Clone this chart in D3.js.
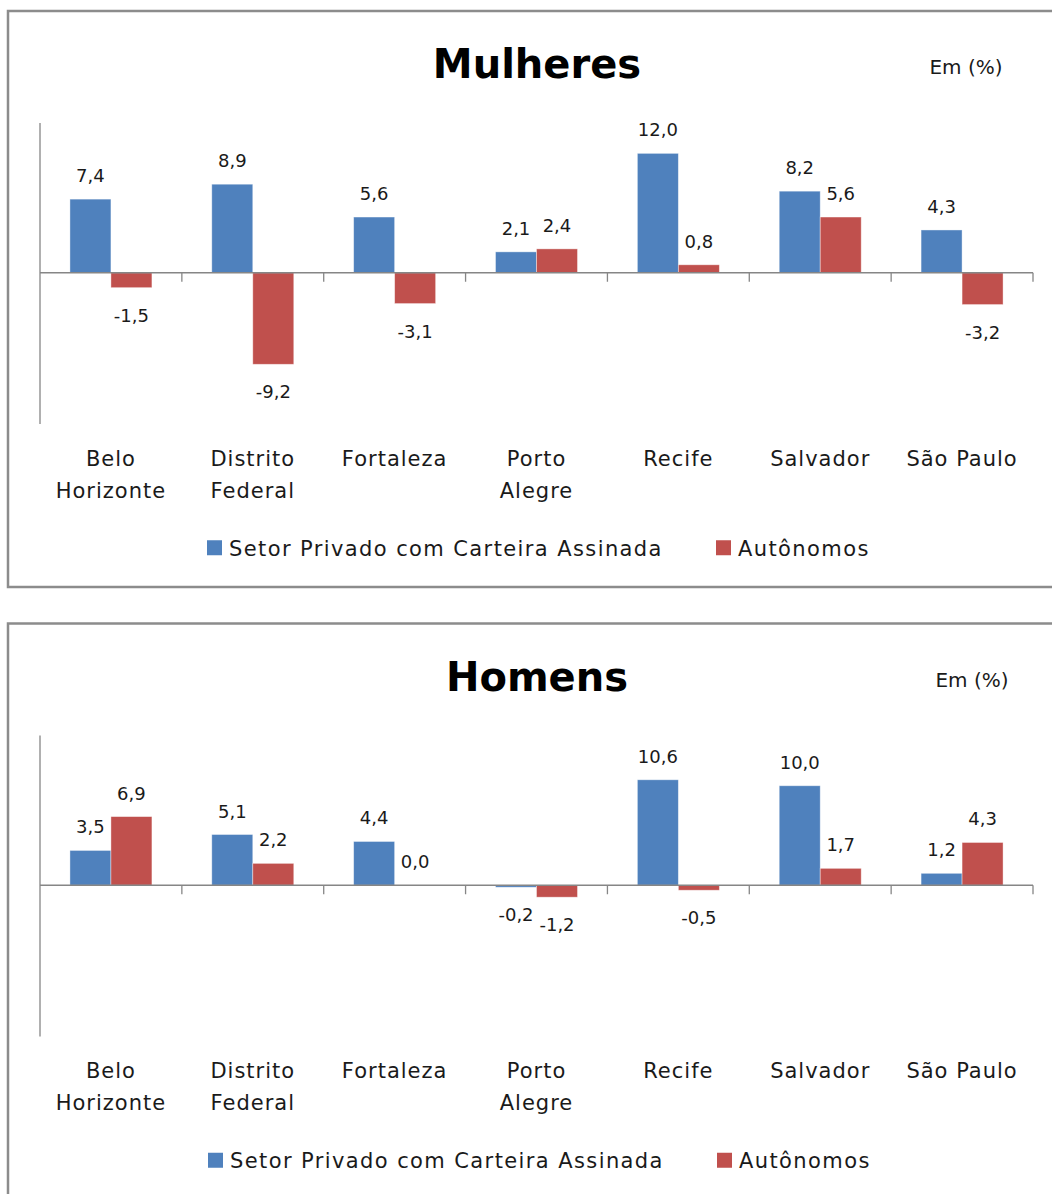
<!DOCTYPE html>
<html>
<head>
<meta charset="utf-8">
<script src="https://cdn.jsdelivr.net/npm/d3@7"></script>
<style>
  body { margin: 0; background: #fff; }
  text { font-family: "DejaVu Sans", sans-serif; fill: #1a1a1a; }
</style>
</head>
<body>
<svg id="chart"></svg>
<script>
const WIDTH = 1052, HEIGHT = 1194;

// dados
const cidades = [["Belo", "Horizonte"], ["Distrito", "Federal"], ["Fortaleza"], ["Porto", "Alegre"], ["Recife"], ["Salvador"], ["São Paulo"]];
const series = ["Setor Privado com Carteira Assinada", "Autônomos"];
const cores = ["#4F81BD", "#C0504D"];

const mulheresSetor = [7.4, 8.9, 5.6, 2.1, 12.0, 8.2, 4.3];
const mulheresAuton = [-1.5, -9.2, -3.1, 2.4, 0.8, 5.6, -3.2];
const homensSetor = [3.5, 5.1, 4.4, -0.2, 10.6, 10.0, 1.2];
const homensAuton = [6.9, 2.2, 0.0, -1.2, -0.5, 1.7, 4.3];

const yDomain = [-15, 15];

const svg = d3.select('svg#chart')
                .attr('width', WIDTH)
                .attr('height', HEIGHT);

const fmt = (v) => v.toFixed(1).replace(".", ",");

const desenhaGrafico = (g, titulo, emX, legX, valores) => {
    // moldura
    g.append("rect")
        .attr("x", 8).attr("y", 11)
        .attr("width", 1060).attr("height", 576)
        .attr("fill", "#fff")
        .attr("stroke", "#8c8c8c")
        .attr("stroke-width", 2.5);

    g.append("text")
        .attr("x", 537).attr("y", 78)
        .attr("text-anchor", "middle")
        .style("font-size", "40px")
        .style("font-weight", "bold")
        .style("fill", "#000")
        .text(titulo);

    g.append("text")
        .attr("x", emX).attr("y", 74)
        .attr("text-anchor", "middle")
        .style("font-size", "20px")
        .text("Em (%)");

    const x = d3.scaleBand().domain(d3.range(cidades.length)).range([40, 1033]);
    const x1 = d3.scaleBand().domain(d3.range(series.length))
                .range([x.bandwidth() * 0.211, x.bandwidth() * 0.789]);
    const y = d3.scaleLinear().domain(yDomain).range([422, 123.5]);

    // barras
    const grupos = g.selectAll("g.cidade")
        .data(cidades.map((c, i) => ({ i, vals: valores.map(s => s[i]) })))
        .join("g")
            .attr("class", "cidade")
            .attr("transform", (d) => `translate(${x(d.i)},0)`);

    grupos.selectAll("rect")
        .data((d) => d.vals.map((v, s) => ({ v, s })))
        .join("rect")
            .attr("x", (d) => x1(d.s))
            .attr("width", x1.bandwidth())
            .attr("y", (d) => y(Math.max(0, d.v)))
            .attr("height", (d) => Math.abs(y(d.v) - y(0)))
            .attr("fill", (d) => cores[d.s])
            .attr("stroke", "#fff")
            .attr("stroke-opacity", 0.5)
            .attr("stroke-width", 0.8);

    grupos.selectAll("text.rotulo")
        .data((d) => d.vals.map((v, s) => ({ v, s })))
        .join("text")
            .attr("class", "rotulo")
            .attr("x", (d) => x1(d.s) + x1.bandwidth() / 2)
            .attr("y", (d) => d.v >= 0 ? y(d.v) - 17 : y(d.v) + 34)
            .attr("text-anchor", "middle")
            .style("font-size", "18px")
            .text((d) => fmt(d.v));

    // eixos
    g.append("line")
        .attr("x1", 40).attr("x2", 40)
        .attr("y1", y(15) - 0.5).attr("y2", y(-15) + 2)
        .attr("stroke", "#868686").attr("stroke-width", 1.3);

    const eixoX = g.append("g").attr("transform", `translate(0,${y(0)})`);
    eixoX.append("line")
        .attr("x1", 40).attr("x2", 1033)
        .attr("stroke", "#868686").attr("stroke-width", 1.3);
    eixoX.selectAll("line.tick")
        .data(d3.range(1, cidades.length + 1))
        .join("line")
            .attr("class", "tick")
            .attr("x1", (d) => x(0) + d * x.step()).attr("x2", (d) => x(0) + d * x.step())
            .attr("y1", 0).attr("y2", 9)
            .attr("stroke", "#868686").attr("stroke-width", 1.3);

    // rótulos das categorias
    const cat = g.selectAll("text.cat")
        .data(cidades)
        .join("text")
            .attr("class", "cat")
            .attr("x", (d, i) => x(i) + x.bandwidth() / 2)
            .attr("y", y(0) + 193)
            .attr("text-anchor", "middle")
            .style("font-size", "21px")
            .style("letter-spacing", "1px");
    cat.selectAll("tspan")
        .data((d) => d)
        .join("tspan")
            .attr("x", function () { return this.parentNode.getAttribute("x"); })
            .attr("dy", (d, i) => i === 0 ? 0 : 32)
            .text((d) => d);

    // legenda
    const leg = g.selectAll("g.leg")
        .data(series)
        .join("g")
            .attr("class", "leg")
            .attr("transform", (d, i) => `translate(${legX[i]},${y(0) + 275})`);
    leg.append("rect")
        .attr("x", 0).attr("y", -7.5)
        .attr("width", 15).attr("height", 15)
        .attr("fill", (d, i) => cores[i]);
    leg.append("text")
        .attr("x", 22).attr("y", 8)
        .style("font-size", "21px")
        .style("letter-spacing", "1.4px")
        .text((d) => d);
};

const topo = svg.append("g").attr("id", "mulheres");
desenhaGrafico(topo, "Mulheres", 966, [207, 716], [mulheresSetor, mulheresAuton]);

const baixo = svg.append("g").attr("id", "homens").attr("transform", "translate(0,612.5)");
desenhaGrafico(baixo, "Homens", 972, [208, 717], [homensSetor, homensAuton]);
</script>
</body>
</html>
